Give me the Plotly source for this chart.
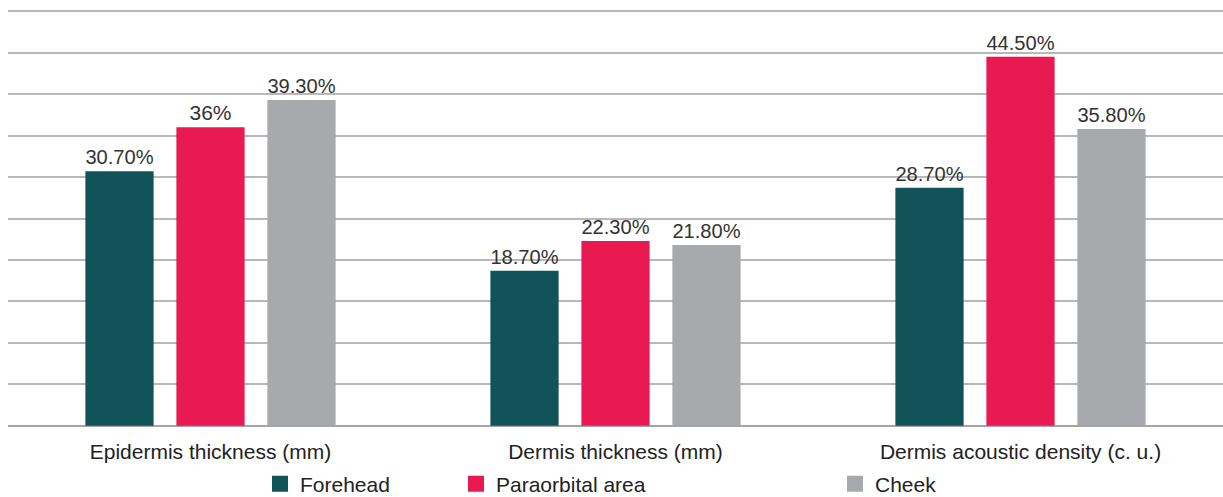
import plotly.graph_objects as go

categories = ["Epidermis thickness (mm)", "Dermis thickness (mm)", "Dermis acoustic density (c. u.)"]
series_names = ["Forehead", "Paraorbital area", "Cheek"]
forehead = [30.7, 18.7, 28.7]
paraorbital = [36.0, 22.3, 44.5]
cheek = [39.3, 21.8, 35.8]
forehead_labels = ["30.70%", "18.70%", "28.70%"]
paraorbital_labels = ["36%", "22.30%", "44.50%"]
cheek_labels = ["39.30%", "21.80%", "35.80%"]
colors = ["#12535A", "#E91A52", "#A8A9AD"]

FONT = "Liberation Sans, Arial, Helvetica, sans-serif"
values = [forehead, paraorbital, cheek]
labels = [forehead_labels, paraorbital_labels, cheek_labels]
legend_ids = ["legend", "legend2", "legend3"]

fig = go.Figure()
for name, vals, labs, col in zip(series_names, values, labels, colors):
    fig.add_trace(go.Bar(
        x=categories, y=vals, name=name, marker=dict(color=col, line=dict(width=0)),
        text=labs, textposition="outside", cliponaxis=False,
        textfont=dict(size=21, color="#333333", family=FONT),
        showlegend=False,
    ))
# legend swatches (square markers) matching the bar colours
for name, col, lg in zip(series_names, colors, legend_ids):
    fig.add_trace(go.Scatter(
        x=[None], y=[None], mode="markers", name=name,
        marker=dict(symbol="square", size=16, color=col, line=dict(width=0)),
        legend=lg, showlegend=True, hoverinfo="skip",
    ))

leg_common = dict(orientation="h", yanchor="middle", xanchor="left",
                  xref="container", yref="container",
                  font=dict(size=21, color="#222222", family=FONT),
                  bgcolor="rgba(0,0,0,0)", itemclick=False, borderwidth=0)
legend_left_px = [260, 456, 835]
y_leg = (497 - 484) / 497.0

fig.update_layout(
    width=1223, height=497,
    margin=dict(l=8, r=0, t=10, b=70, autoexpand=False),
    paper_bgcolor="white", plot_bgcolor="white",
    barmode="group", bargap=0.326, bargroupgap=0.25,
    showlegend=True,
    legend=dict(x=legend_left_px[0] / 1223.0, y=y_leg, **leg_common),
    legend2=dict(x=legend_left_px[1] / 1223.0, y=y_leg, **leg_common),
    legend3=dict(x=legend_left_px[2] / 1223.0, y=y_leg, **leg_common),
    font=dict(family=FONT, color="#222222"),
    xaxis=dict(showgrid=False, showline=False, ticks="",
               tickfont=dict(size=21, color="#222222", family=FONT), ticklabelstandoff=10),
    yaxis=dict(range=[-0.15, 50.15], dtick=5, tick0=0, showticklabels=False, showgrid=True,
               gridcolor="#B8B8B8", gridwidth=2, zeroline=True, zerolinecolor="#A5A5A5",
               zerolinewidth=2, showline=False, ticks=""),
)

fig.write_html("out.html",
               config={"displayModeBar": False},
               post_script="document.body.style.margin='0px';document.body.style.padding='0px';")
